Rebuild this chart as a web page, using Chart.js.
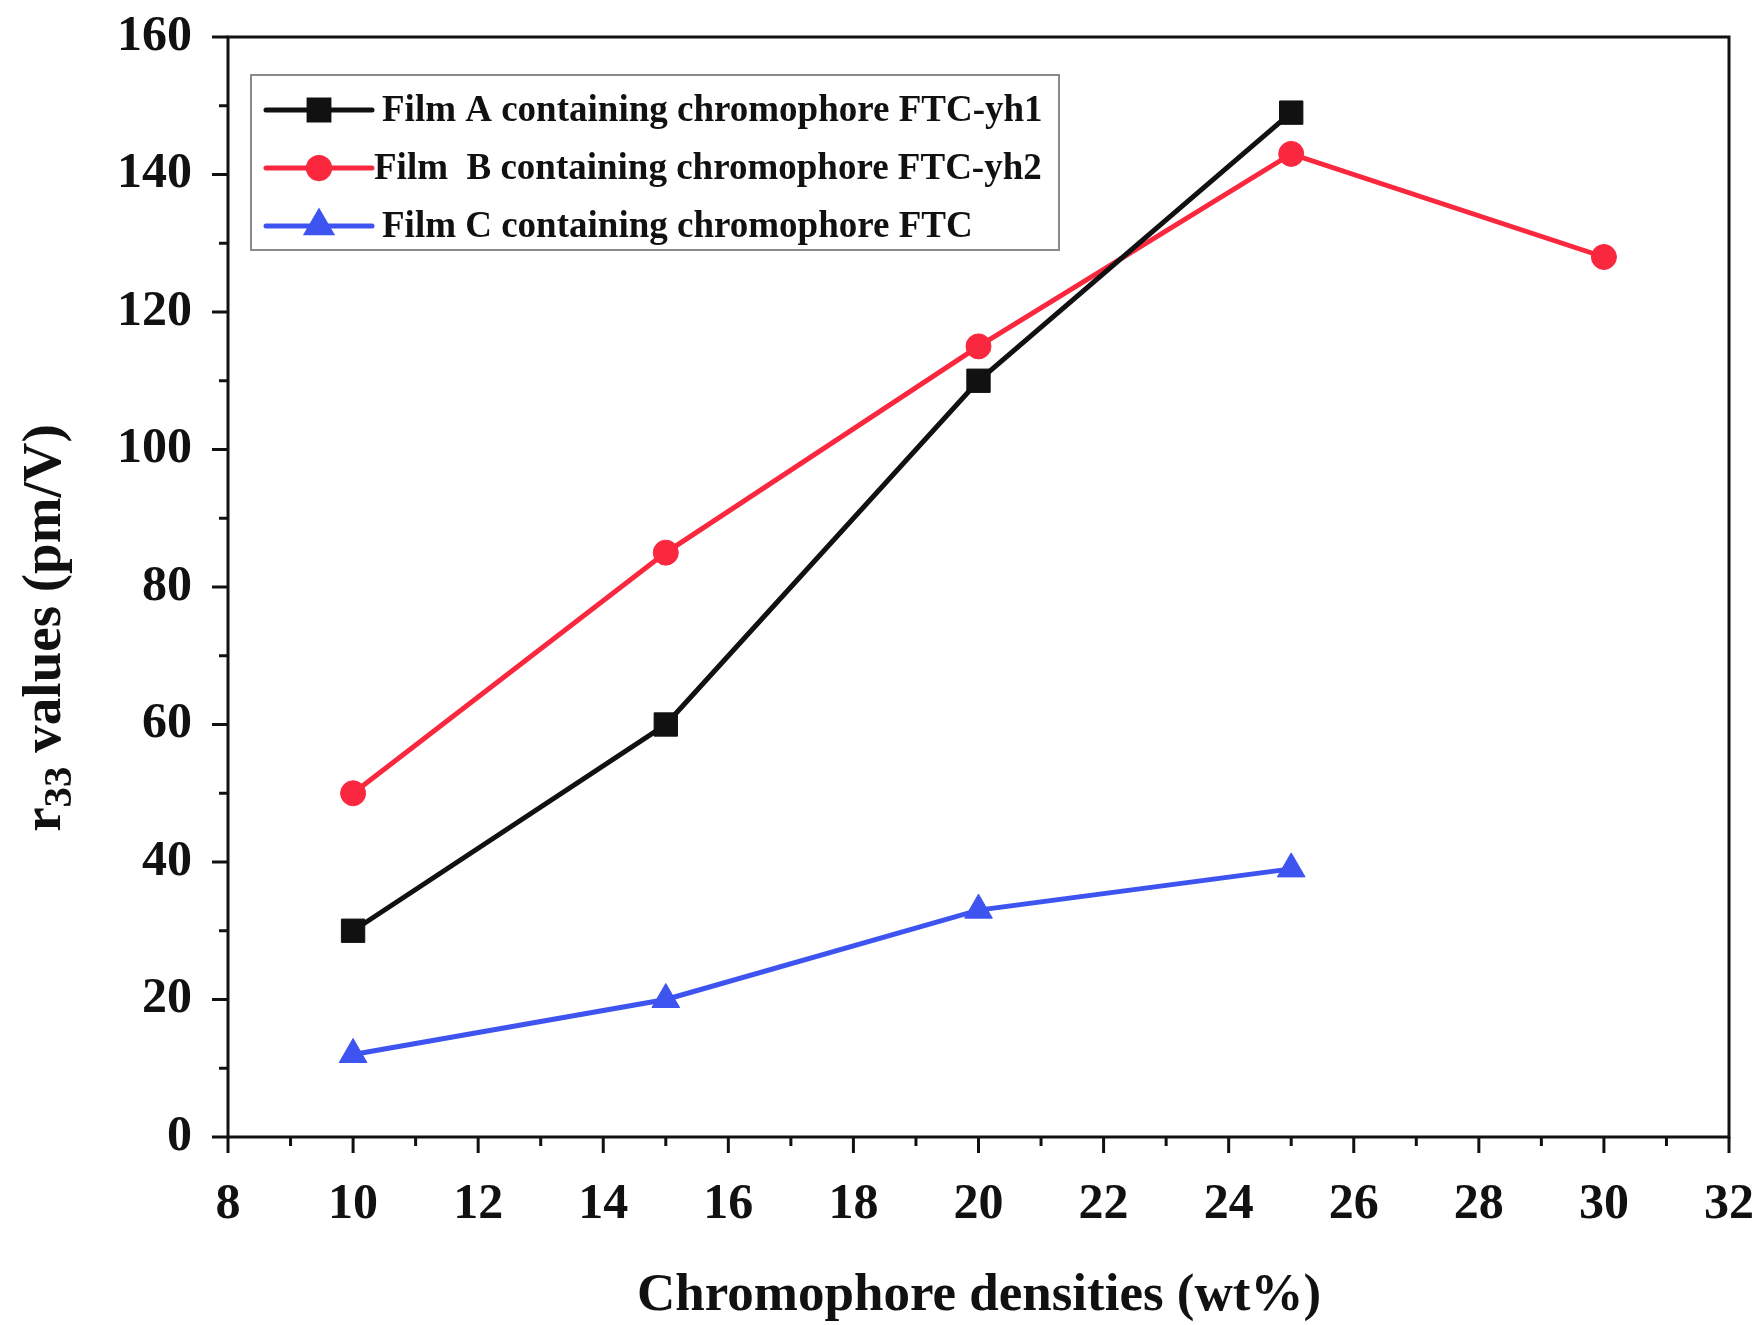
<!DOCTYPE html>
<html>
<head>
<meta charset="utf-8">
<script src="https://cdn.jsdelivr.net/npm/chart.js@4.4.1/dist/chart.umd.min.js"></script>
<style>
  html, body { margin: 0; padding: 0; background: #fff; }
  #wrap { width: 1763px; height: 1325px; }
</style>
</head>
<body>
<div id="wrap"><canvas id="r33Chart" width="1763" height="1325"></canvas></div>
<script>
// data
const densities = [10, 15, 20, 25, 30];
const filmA = [30, 60, 110, 149];
const filmB = [50, 85, 115, 143, 128];
const filmC = [12, 20, 33, 39];
const legendLabels = [
    'Film A containing chromophore FTC-yh1',
    'Film  B containing chromophore FTC-yh2',
    'Film C containing chromophore FTC'
];
const xTitle = 'Chromophore densities (wt%)';

const FONT = '"Liberation Serif", "Times New Roman", serif';
const RED = 'rgb(250, 40, 62)';
const BLUE = 'rgb(62, 84, 240)';

function pts(ys) {
    return ys.map((y, i) => ({ x: densities[i], y: y }));
}

// frame, tick marks, titles and legend box
const decorations = {
    id: 'decorations',
    afterDraw(chart) {
        const ctx = chart.ctx;
        const a = chart.chartArea;
        const xs = chart.scales.x;
        const ys = chart.scales.y;
        ctx.save();
        ctx.strokeStyle = '#111';
        ctx.lineWidth = 3;
        ctx.strokeRect(a.left, a.top, a.right - a.left, a.bottom - a.top);

        // x ticks (outward)
        for (let v = 8; v <= 32; v++) {
            const px = xs.getPixelForValue(v);
            const len = v % 2 === 0 ? 16 : 9;
            ctx.beginPath();
            ctx.moveTo(px, a.bottom);
            ctx.lineTo(px, a.bottom + len);
            ctx.stroke();
        }
        // y ticks (outward)
        for (let v = 0; v <= 160; v += 10) {
            const py = ys.getPixelForValue(v);
            const len = v % 20 === 0 ? 16 : 9;
            ctx.beginPath();
            ctx.moveTo(a.left, py);
            ctx.lineTo(a.left - len, py);
            ctx.stroke();
        }

        // x title
        ctx.fillStyle = '#111';
        ctx.font = 'bold 53px ' + FONT;
        ctx.textAlign = 'center';
        ctx.textBaseline = 'middle';
        ctx.fillText(xTitle, 979, 1296);

        // y title with subscript
        ctx.translate(46, 628);
        ctx.rotate(-Math.PI / 2);
        const big = 'bold 55px ' + FONT;
        const small = 'bold 41px ' + FONT;
        ctx.font = big;
        const w1 = ctx.measureText('r').width;
        const w3 = ctx.measureText(' values (pm/V)').width;
        ctx.font = small;
        const w2 = ctx.measureText('33').width;
        let x0 = -(w1 + w2 + w3) / 2;
        ctx.textAlign = 'left';
        ctx.font = big;
        ctx.fillText('r', x0, 0);
        ctx.font = small;
        ctx.fillText('33', x0 + w1, 14);
        ctx.font = big;
        ctx.fillText(' values (pm/V)', x0 + w1 + w2, 0);
        ctx.restore();

        // legend
        ctx.save();
        ctx.strokeStyle = '#8a8a8a';
        ctx.lineWidth = 2;
        ctx.strokeRect(251, 75, 808, 175);
        const rowsY = [110, 168, 226];
        const textX = [382, 374, 382];
        chart.data.datasets.forEach((ds, i) => {
            const y = rowsY[i];
            ctx.strokeStyle = ds.borderColor;
            ctx.lineWidth = 5;
            ctx.lineCap = 'round';
            ctx.beginPath();
            ctx.moveTo(266, y);
            ctx.lineTo(372, y);
            ctx.stroke();
            Chart.helpers.drawPoint(ctx, {
                pointStyle: ds.pointStyle,
                radius: ds.pointRadius * 0.85,
                borderWidth: 1
            }, 319, y);
            ctx.fillStyle = ds.borderColor;
            ctx.fill();
            ctx.fillStyle = '#111';
            ctx.font = 'bold 37px ' + FONT;
            ctx.textAlign = 'left';
            ctx.textBaseline = 'middle';
            ctx.fillText(legendLabels[i], textX[i], y + 1);
        });
        ctx.restore();
    }
};

new Chart(document.getElementById('r33Chart'), {
    type: 'line',
    data: {
        datasets: [{
            label: legendLabels[0],
            data: pts(filmA),
            borderColor: '#111',
            backgroundColor: '#111',
            pointStyle: 'rect',
            pointRadius: 16.5
        }, {
            label: legendLabels[1],
            data: pts(filmB),
            borderColor: RED,
            backgroundColor: RED,
            pointStyle: 'circle',
            pointRadius: 12.5
        }, {
            label: legendLabels[2],
            data: pts(filmC),
            borderColor: BLUE,
            backgroundColor: BLUE,
            pointStyle: 'triangle',
            pointRadius: 16
        }]
    },
    options: {
        responsive: false,
        animation: false,
        layout: { padding: { left: 0, top: 37, right: 34, bottom: 0 } },
        elements: {
            line: { borderWidth: 5, tension: 0 },
            point: { borderWidth: 1, hoverRadius: 12 }
        },
        plugins: {
            legend: { display: false },
            tooltip: { enabled: false }
        },
        scales: {
            x: {
                type: 'linear',
                min: 8,
                max: 32,
                afterFit(s) {
                    s.height = 188;
                    s.paddingLeft = 0;
                    s.paddingRight = 0;
                },
                grid: { display: false, drawTicks: false },
                border: { display: false },
                ticks: {
                    stepSize: 2,
                    padding: 38,
                    color: '#111',
                    font: { family: FONT, size: 50, weight: 'bold' }
                }
            },
            y: {
                min: 0,
                max: 160,
                afterFit(s) {
                    s.width = 228;
                    s.paddingTop = 0;
                    s.paddingBottom = 0;
                },
                grid: { display: false, drawTicks: false },
                border: { display: false },
                ticks: {
                    stepSize: 20,
                    padding: 36,
                    color: '#111',
                    font: { family: FONT, size: 50, weight: 'bold' }
                }
            }
        }
    },
    plugins: [decorations]
});
</script>
</body>
</html>
